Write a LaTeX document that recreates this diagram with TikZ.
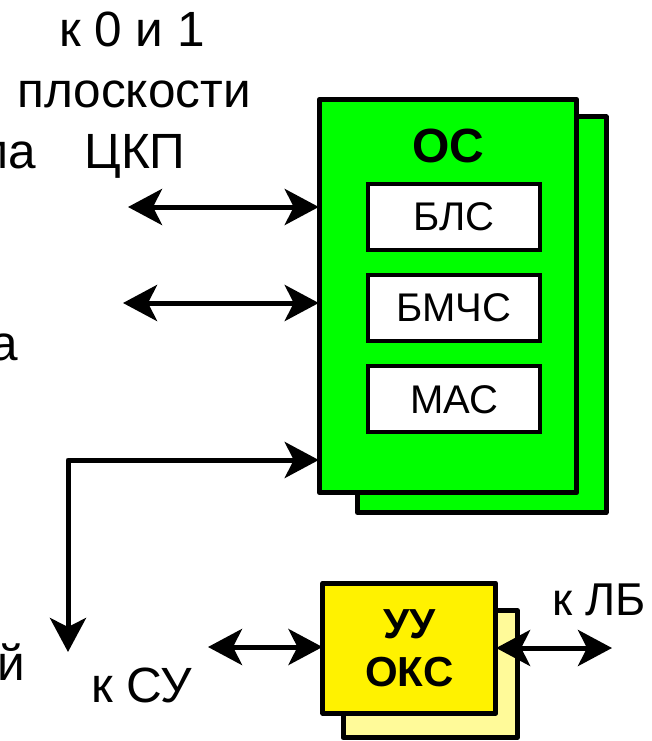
\documentclass[tikz,border=0pt]{standalone}
\usepackage{fontspec}
\setmainfont{Liberation Sans}
\usetikzlibrary{arrows.meta, positioning, calc}

\tikzset{
  blok/.style={draw=black, line width=5pt, inner sep=0pt, line join=round},
  podblok/.style={draw=black, fill=white, line width=4pt, minimum width=172pt, minimum height=66pt, inner sep=0pt, font=\fontsize{40}{46}\selectfont},
  strelka/.style={line width=5pt, line join=round, {Stealth[length=34pt,width=36pt,inset=9pt]}-{Stealth[length=34pt,width=36pt,inset=9pt]}},
  metka/.style={font=\fontsize{49.5}{56}\selectfont, inner sep=0pt}
}

\begin{document}
\begin{tikzpicture}[x=1pt, y=-1pt]
        \useasboundingbox (0,0) rectangle (652,741);

        % Блок ОС
        \node[blok, fill=green, minimum width=248.5pt, minimum height=395.7pt] (osfon) at (481.75, 314.7) {};
        \node[blok, fill=green, minimum width=257.5pt, minimum height=393pt] (os) at (448, 296) {};
        \node[font=\bfseries\fontsize{48}{56}\selectfont, inner sep=0pt] (osnazv) at (448, 145.5) {ОС};
        \node[podblok] (bls) at (454, 216.7) {БЛС};
        \node[podblok, below=21.3pt of bls] (bmchs) {БМЧС};
        \node[podblok, below=21.3pt of bmchs] (mas) {МАС};

        % Блок УУ ОКС
        \node[blok, fill=yellow!40, minimum width=174.5pt, minimum height=126.7pt] (uufon) at (430.3, 674.2) {};
        \node[blok, fill=yellow, minimum width=172.7pt, minimum height=130.3pt, align=center, font=\bfseries\fontsize{42}{48}\selectfont] (uu) at (409.3, 648.2) {УУ\\ОКС};

        % Подписи
        \node[metka, anchor=base] (k01) at (132, 47) {к 0 и 1};
        \node[metka, anchor=base] (plosk) at (134, 108) {плоскости};
        \node[metka, anchor=base] (ckp) at (135, 168) {ЦКП};
        \node[metka, anchor=base east] (ma) at (36, 168) {ма};
        \node[metka, anchor=base east] (a) at (18, 360) {а};
        \node[metka, anchor=base east] (ij) at (25, 680) {й};
        \node[metka, anchor=base] (ksu) at (141.5, 702) {к СУ};
        \node[metka, anchor=base, font=\fontsize{46}{52}\selectfont] (klb) at (599, 615) {к ЛБ};

        % Стрелки
        \coordinate (ckp1) at (128, 207);
        \coordinate (ckp2) at (123, 303);
        \coordinate (ugol) at (68, 460);
        \coordinate (su) at (68, 652);
        \coordinate (su2) at (208, 647);
        \coordinate (lb) at (612, 648);
        \draw[strelka, shorten >=-2pt] (ckp1) -- (ckp1 -| os.west);
        \draw[strelka, shorten >=-2pt] (ckp2) -- (ckp2 -| os.west);
        \draw[strelka, shorten >=-2pt] (su) |- (ugol -| os.west);
        \draw[strelka, shorten >=-2pt] (su2) -- (su2 -| uu.west);
        \draw[strelka, shorten <=-2pt] (uu.east |- lb) -- (lb);
    \end{tikzpicture}
\end{document}
